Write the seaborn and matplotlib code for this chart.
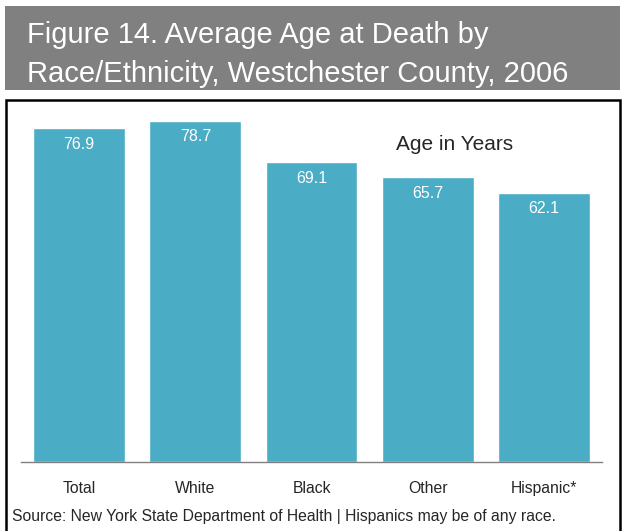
import numpy as np
import pandas as pd
import seaborn as sns
import matplotlib.pyplot as plt
from matplotlib.patches import Rectangle

# data
groups = ["Total", "White", "Black", "Other", "Hispanic*"]
ages = [76.9, 78.7, 69.1, 65.7, 62.1]

title_lines = ["Figure 14. Average Age at Death by",
               "Race/Ethnicity, Westchester County, 2006"]
source = "Source: New York State Department of Health | Hispanics may be of any race."

sns.set_style("white")
plt.rcParams['font.family'] = ['Liberation Sans', 'DejaVu Sans']

df = pd.DataFrame({"group": groups, "age": ages})

fig = plt.figure(figsize=(6.26, 5.31), dpi=100)

# gray header band
fig.patches.append(Rectangle((5/626, 1-90/531), 615/626, 84/531, transform=fig.transFigure,
                             facecolor="#808080", edgecolor="none", zorder=0))
fig.text(27/626, 1-43/531, title_lines[0], color="white", fontsize=21, va="baseline", ha="left")
fig.text(27/626, 1-82/531, title_lines[1], color="white", fontsize=21, va="baseline", ha="left")

# black frame around chart
fig.patches.append(Rectangle((6/626, -0.01), 614/626, 1-100/531+0.01, transform=fig.transFigure,
                             facecolor="none", edgecolor="black", linewidth=1.8, zorder=0))

ax = fig.add_axes([21/626, 69/531, 581/626, 347/531])
sns.barplot(data=df, x="group", y="age", color="#4BACC6", saturation=1, width=0.79, ax=ax)
ax.set_ylim(0, 80)
ax.set_xlim(-0.5, len(groups)-0.5)
for i, v in enumerate(ages):
    ax.text(i, v-2.0, f"{v:.1f}", color="white", ha="center", va="top", fontsize=11.5)
ax.text(3.23, 73.1, "Age in Years", fontsize=15, ha="center", va="center")

ax.set_xlabel("")
ax.set_ylabel("")
ax.set_yticks([])
ax.tick_params(axis="x", length=0, pad=14, labelsize=11.3)
for s in ["top", "right", "left"]:
    ax.spines[s].set_visible(False)
ax.spines["bottom"].set_color("#808080")
ax.spines["bottom"].set_linewidth(1)

fig.text(12/626, 1-517/531, source, fontsize=11.3, ha="left", va="center")

plt.savefig("out.png", dpi=100)
